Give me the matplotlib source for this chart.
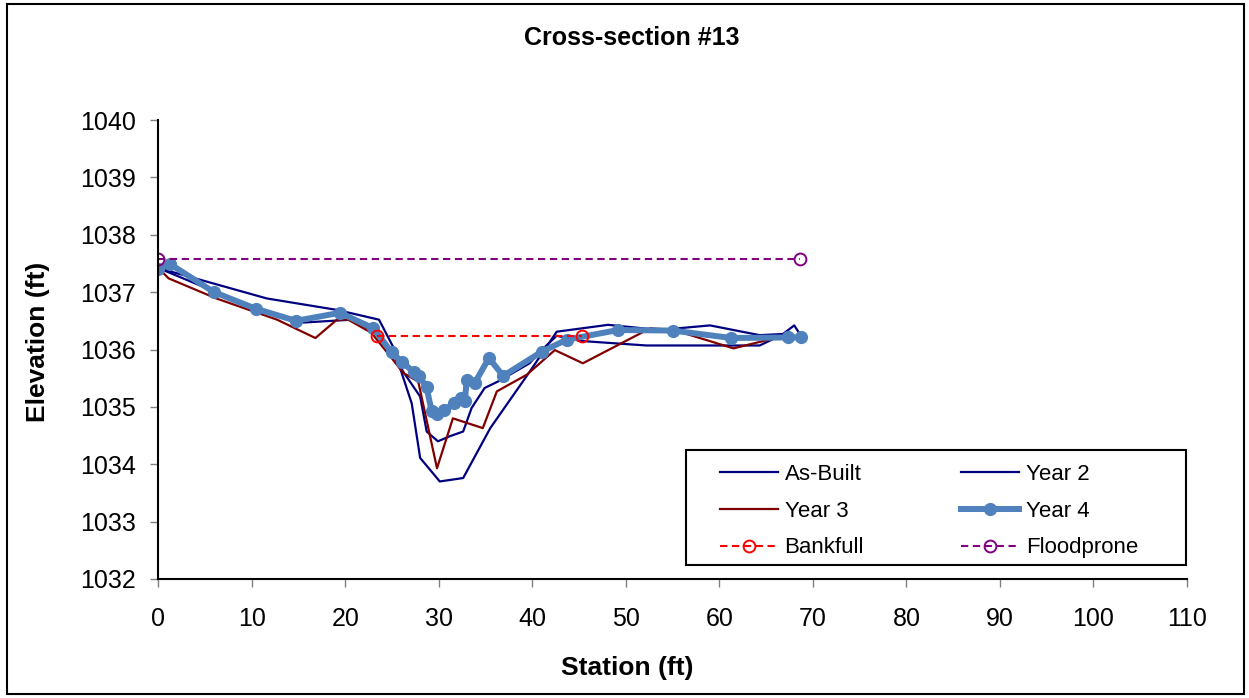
import matplotlib
matplotlib.use('Agg')
import matplotlib.pyplot as plt
from matplotlib.patches import Rectangle

plt.rcParams['font.family'] = ['Liberation Sans', 'DejaVu Sans']

# station (ft) / elevation (ft)
asbuilt_x = [0, 11.6, 19.1, 23.6, 25.1, 27.1, 28.0, 30.1, 32.6, 35.5, 39.7, 42.6,
             48.1, 53.6, 59.0, 64.3, 66.8, 68.0, 68.8]
asbuilt_y = [1037.42, 1036.89, 1036.69, 1036.52, 1036.05, 1035.06, 1034.11, 1033.70,
             1033.76, 1034.63, 1035.61, 1036.31, 1036.43, 1036.34, 1036.42, 1036.25,
             1036.27, 1036.42, 1036.22]

year2_x = [0, 5.0, 10.0, 15.5, 20.7, 23.5, 24.8, 26.2, 28.0, 28.7, 29.9, 31.2, 32.6,
           33.5, 34.9, 36.3, 39.7, 40.8, 42.6, 45.1, 52.2, 64.3, 66.5, 68.8]
year2_y = [1037.42, 1037.08, 1036.76, 1036.47, 1036.52, 1036.28, 1035.99, 1035.61,
           1035.18, 1034.57, 1034.40, 1034.49, 1034.57, 1034.98, 1035.33, 1035.44,
           1035.76, 1035.96, 1036.24, 1036.15, 1036.07, 1036.07, 1036.24, 1036.22]

year3_x = [0, 1.1, 6.2, 12.7, 16.8, 19.1, 20.3, 22.8, 25.1, 26.2, 27.8, 29.8, 31.5,
           34.7, 36.2, 39.4, 42.4, 45.4, 52.6, 55.1, 61.5, 66.5, 68.8]
year3_y = [1037.42, 1037.24, 1036.89, 1036.52, 1036.20, 1036.52, 1036.52, 1036.29,
           1035.82, 1035.59, 1035.44, 1033.93, 1034.80, 1034.63, 1035.27, 1035.56,
           1035.99, 1035.76, 1036.37, 1036.34, 1036.02, 1036.22, 1036.22]

year4_x = [0, 1.25, 5.95, 10.44, 14.72, 19.43, 23.0, 24.95, 26.02, 27.29, 27.91, 28.69,
           29.23, 29.76, 30.57, 31.61, 32.36, 32.79, 32.97, 33.85, 35.35, 36.88, 40.98,
           43.65, 49.17, 55.05, 61.29, 67.34, 68.70]
year4_y = [1037.40, 1037.49, 1037.00, 1036.71, 1036.50, 1036.64, 1036.37, 1035.95,
           1035.79, 1035.61, 1035.53, 1035.34, 1034.92, 1034.88, 1034.95, 1035.06,
           1035.15, 1035.10, 1035.47, 1035.42, 1035.85, 1035.54, 1035.96, 1036.17,
           1036.34, 1036.33, 1036.20, 1036.21, 1036.21]

bankfull_x = [23.4, 45.3]
bankfull_y = [1036.24, 1036.24]
floodprone_x = [0, 68.6]
floodprone_y = [1037.58, 1037.58]

W, H = 1249, 698
fig = plt.figure(figsize=(W/100, H/100), dpi=100)
ax = fig.add_axes([158.3/W, 1-579/H, (1187-158.3)/W, (579-120)/H])

l1, = ax.plot(asbuilt_x, asbuilt_y, color='#000080', lw=1.6, label='As-Built')
l2, = ax.plot(year2_x, year2_y, color='#000080', lw=1.6, label='Year 2')
l3, = ax.plot(year3_x, year3_y, color='#800000', lw=1.6, label='Year 3')
l4, = ax.plot(year4_x, year4_y, color='#4F81BD', lw=4.3, marker='o', ms=8.5, label='Year 4')
l5, = ax.plot(bankfull_x, bankfull_y, color='#FF0000', lw=1.5, dashes=(3.5, 2.2), marker='o',
              ms=8.5, mfc='none', mew=1.4, label='Bankfull')
l6, = ax.plot(floodprone_x, floodprone_y, color='#800080', lw=1.5, dashes=(3.5, 2.2), marker='o',
              ms=8.5, mfc='none', mew=1.4, label='Floodprone')

ax.set_xlim(0, 110)
ax.set_ylim(1032, 1040)
ax.set_xticks(range(0, 111, 10))
ax.set_yticks(range(1032, 1041))
ax.spines['top'].set_visible(False)
ax.spines['right'].set_visible(False)
ax.spines['left'].set_linewidth(1.5)
ax.spines['bottom'].set_linewidth(1.5)
ax.tick_params(axis='both', direction='out', length=6, width=1, color='0.5', labelsize=18)
ax.tick_params(axis='y', pad=10)
ax.tick_params(axis='x', pad=14.5)

fig.text(632/W, 1-38/H, 'Cross-section #13', ha='center', va='center',
         fontsize=18, fontweight='bold')
fig.text(38/W, 1-342/H, 'Elevation (ft)', ha='center', va='center',
         rotation=90, fontsize=19, fontweight='bold')
fig.text(627/W, 1-668/H, 'Station (ft)', ha='center', va='center',
         fontsize=19, fontweight='bold')

# row-major order like the original legend
handles = [l1, l3, l5, l2, l4, l6]
leg = ax.legend(handles=handles, labels=[h.get_label() for h in handles], ncol=2,
                loc='upper left', bbox_to_anchor=(709/W, 1-452.7/H),
                bbox_transform=fig.transFigure, borderaxespad=0, fontsize=16,
                handlelength=2.6, handletextpad=0.3, columnspacing=4.38,
                labelspacing=0.71, frameon=False, borderpad=0.5)
fig.patches.append(Rectangle((686/W, 1-565/H), (1186-686)/W, (565-450)/H,
                             transform=fig.transFigure, fill=False,
                             edgecolor='black', lw=1.5, zorder=5))

fig.patches.append(Rectangle((0.006, 0.006), 0.99, 0.988, transform=fig.transFigure,
                             fill=False, edgecolor='black', lw=1.5))

fig.savefig('out.png', dpi=100)
